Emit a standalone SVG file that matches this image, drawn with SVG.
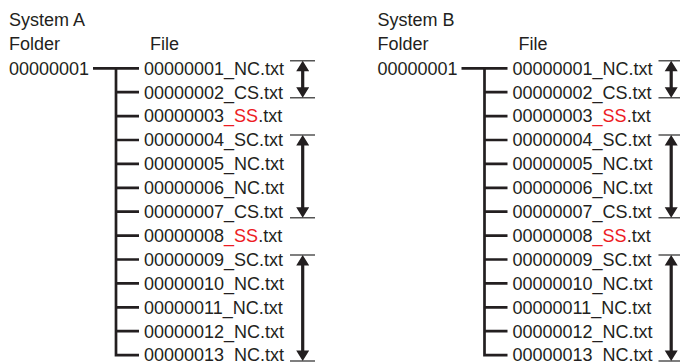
<svg xmlns="http://www.w3.org/2000/svg" width="680" height="362" viewBox="0 0 680 362">
<style>
text{font-family:"Liberation Sans",Arial,sans-serif;font-size:18px;fill:#231f20}
.r{fill:#ed1c24}
.ln{stroke:#231f20;stroke-width:2.7;fill:none}
.tk{stroke:#555;stroke-width:1.5}
.sh{stroke:#231f20;stroke-width:3.2}
.hd{fill:#231f20}
</style>
<rect width="680" height="362" fill="#fff"/>
<g id="systemA">
<g id="a-title"><text x="9" y="26">System A</text></g>
<g id="a-folder-h"><text x="9" y="50">Folder</text></g>
<g id="a-file-h"><text x="150" y="50">File</text></g>
<g id="a-folder"><text x="9" y="74.6">00000001</text></g>
<g id="a-f01"><text x="144" y="74.6">00000001_NC.txt</text></g>
<g id="a-f02"><text x="144" y="98.5">00000002_CS.txt</text></g>
<g id="a-f03"><text x="144" y="122.4">00000003<tspan class="r">_SS</tspan>.txt</text></g>
<g id="a-f04"><text x="144" y="146.3">00000004_SC.txt</text></g>
<g id="a-f05"><text x="144" y="170.2">00000005_NC.txt</text></g>
<g id="a-f06"><text x="144" y="194.1">00000006_NC.txt</text></g>
<g id="a-f07"><text x="144" y="218">00000007_CS.txt</text></g>
<g id="a-f08"><text x="144" y="241.9">00000008<tspan class="r">_SS</tspan>.txt</text></g>
<g id="a-f09"><text x="144" y="265.8">00000009_SC.txt</text></g>
<g id="a-f10"><text x="144" y="289.7">00000010_NC.txt</text></g>
<g id="a-f11"><text x="144" y="313.6">00000011_NC.txt</text></g>
<g id="a-f12"><text x="144" y="337.5">00000012_NC.txt</text></g>
<g id="a-f13"><text x="144" y="361.4">00000013_NC.txt</text></g>
</g>
<g id="systemB">
<g id="b-title"><text x="377.5" y="26">System B</text></g>
<g id="b-folder-h"><text x="377.5" y="50">Folder</text></g>
<g id="b-file-h"><text x="518.5" y="50">File</text></g>
<g id="b-folder"><text x="377.5" y="74.6">00000001</text></g>
<g id="b-f01"><text x="512.5" y="74.6">00000001_NC.txt</text></g>
<g id="b-f02"><text x="512.5" y="98.5">00000002_CS.txt</text></g>
<g id="b-f03"><text x="512.5" y="122.4">00000003<tspan class="r">_SS</tspan>.txt</text></g>
<g id="b-f04"><text x="512.5" y="146.3">00000004_SC.txt</text></g>
<g id="b-f05"><text x="512.5" y="170.2">00000005_NC.txt</text></g>
<g id="b-f06"><text x="512.5" y="194.1">00000006_NC.txt</text></g>
<g id="b-f07"><text x="512.5" y="218">00000007_CS.txt</text></g>
<g id="b-f08"><text x="512.5" y="241.9">00000008<tspan class="r">_SS</tspan>.txt</text></g>
<g id="b-f09"><text x="512.5" y="265.8">00000009_SC.txt</text></g>
<g id="b-f10"><text x="512.5" y="289.7">00000010_NC.txt</text></g>
<g id="b-f11"><text x="512.5" y="313.6">00000011_NC.txt</text></g>
<g id="b-f12"><text x="512.5" y="337.5">00000012_NC.txt</text></g>
<g id="b-f13"><text x="512.5" y="361.4">00000013_NC.txt</text></g>
</g>
<g id="connectors">
<path class="ln" d="M93,68.3H139M116,68.3V355.1H139M116,92.2H139M116,116.1H139M116,140H139M116,163.9H139M116,187.8H139M116,211.7H139M116,235.6H139M116,259.5H139M116,283.4H139M116,307.3H139M116,331.2H139"/>
<path class="ln" d="M461.5,68.3H507.5M484.5,68.3V355.1H507.5M484.5,92.2H507.5M484.5,116.1H507.5M484.5,140H507.5M484.5,163.9H507.5M484.5,187.8H507.5M484.5,211.7H507.5M484.5,235.6H507.5M484.5,259.5H507.5M484.5,283.4H507.5M484.5,307.3H507.5M484.5,331.2H507.5"/>
<g id="ranges-a">
<path class="tk" d="M290,60.7H315M290,97.7H315M290,135H315M290,217.7H315M290,255H315M290,361H315"/>
<path class="sh" d="M302.7,69V89M302.7,143V209M302.7,263V352"/>
<path class="hd" d="M302.7,60.7L296.2,71.2H309.2ZM302.7,97.7L296.2,87.2H309.2ZM302.7,135L296.2,145.5H309.2ZM302.7,217.7L296.2,207.2H309.2ZM302.7,255L296.2,265.5H309.2ZM302.7,361L296.2,350.5H309.2Z"/>
</g>
<g id="ranges-b">
<path class="tk" d="M658.5,60.7H683.5M658.5,97.7H683.5M658.5,135H683.5M658.5,217.7H683.5M658.5,255H683.5M658.5,361H683.5"/>
<path class="sh" d="M671.2,69V89M671.2,143V209M671.2,263V352"/>
<path class="hd" d="M671.2,60.7L664.7,71.2H677.7ZM671.2,97.7L664.7,87.2H677.7ZM671.2,135L664.7,145.5H677.7ZM671.2,217.7L664.7,207.2H677.7ZM671.2,255L664.7,265.5H677.7ZM671.2,361L664.7,350.5H677.7Z"/>
</g>
</g>
</svg>
